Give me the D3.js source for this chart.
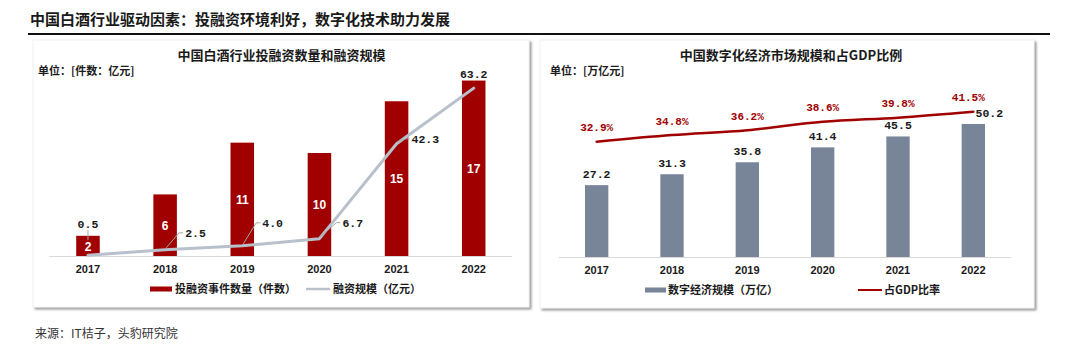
<!DOCTYPE html>
<html>
<head>
<meta charset="utf-8">
<script src="https://cdn.jsdelivr.net/npm/d3@7"></script>
<style>
  html, body { margin: 0; padding: 0; background: #fff; }
  svg { display: block; }
  .cjk { font-family: "Noto Sans CJK SC", "Noto Sans", sans-serif; }
  .num { font-family: "Liberation Mono", "DejaVu Sans Mono", monospace; }
  .lat { font-family: "Liberation Sans", Arial, sans-serif; }
</style>
</head>
<body>
<svg id="chart" width="1080" height="361"></svg>
<script>
// ---------- DATA ----------
const years = ["2017", "2018", "2019", "2020", "2021", "2022"];
// Left chart: 投融资事件数量（件数） and 融资规模（亿元）
const dealCounts = [2, 6, 11, 10, 15, 17];
const financingScale = [0.5, 2.5, 4.0, 6.7, 42.3, 63.2];
const financingLabels = ["0.5", "2.5", "4.0", "6.7", "42.3", "63.2"];
// Right chart: 数字经济规模（万亿） and 占GDP比率
const digitalEconomy = [27.2, 31.3, 35.8, 41.4, 45.5, 50.2];
const digitalLabels = ["27.2", "31.3", "35.8", "41.4", "45.5", "50.2"];
const gdpShare = [0.329, 0.348, 0.362, 0.386, 0.398, 0.415];
const gdpShareLabels = ["32.9%", "34.8%", "36.2%", "38.6%", "39.8%", "41.5%"];

const pageTitle = "中国白酒行业驱动因素：投融资环境利好，数字化技术助力发展";
const leftTitle = "中国白酒行业投融资数量和融资规模";
const leftUnit = "单位：[件数：亿元]";
const leftLegend = ["投融资事件数量（件数）", "融资规模（亿元）"];
const rightTitle = "中国数字化经济市场规模和占GDP比例";
const rightUnit = "单位：[万亿元]";
const rightLegend = ["数字经济规模（万亿）", "占GDP比率"];
const sourceText = "来源：IT桔子，头豹研究院";

// ---------- LAYOUT / STYLE ----------
const RED = "#a00000";
const LINE_GRAY = "#b8c0cb";
const BAR_GRAY = "#788497";
const AXIS_GRAY = "#d9d9d9";

const svg = d3.select("#chart");
const defs = svg.append("defs");
const f = defs.append("filter").attr("id", "shadow")
  .attr("x", "-5%").attr("y", "-5%").attr("width", "110%").attr("height", "115%");
f.append("feDropShadow").attr("dx", 2).attr("dy", 2).attr("stdDeviation", 1.3)
  .attr("flood-color", "#7a7a7a").attr("flood-opacity", 0.75);

// Page title
svg.append("text").attr("class", "cjk")
  .attr("x", 30).attr("y", 25)
  .attr("font-size", 15).attr("font-weight", 700).attr("fill", "#1a1a1a")
  .text(pageTitle);
svg.append("line").attr("x1", 28).attr("x2", 1050).attr("y1", 34).attr("y2", 34)
  .attr("stroke", "#111").attr("stroke-width", 2);

// Panels
svg.append("rect").attr("x", 33).attr("y", 40).attr("width", 496).attr("height", 267)
  .attr("fill", "#fff").attr("stroke", "#f2f2f2").attr("filter", "url(#shadow)");
svg.append("rect").attr("x", 540).attr("y", 40).attr("width", 494).attr("height", 268)
  .attr("fill", "#fff").attr("stroke", "#f2f2f2").attr("filter", "url(#shadow)");

// Source
svg.append("text").attr("class", "cjk")
  .attr("x", 35).attr("y", 338).attr("font-size", 12).attr("fill", "#333")
  .text(sourceText);

// ============ LEFT CHART ============
(function () {
  const g = svg.append("g");
  const base = 256.5;
  const x = d3.scaleBand().domain(years).range([49.4, 512.3])
    .paddingInner(0.695).paddingOuter(0.3475);
  const yBar = d3.scaleLinear().domain([0, 18]).range([base, base - 186.3]);
  const yLine = d3.scaleLinear().domain([0, 70]).range([base, base - 186.5]);
  const cx = d => x(d) + x.bandwidth() / 2;

  g.append("text").attr("class", "cjk").attr("x", 281.5).attr("y", 60)
    .attr("text-anchor", "middle").attr("font-size", 13).attr("font-weight", 700)
    .attr("fill", "#1a1a1a").text(leftTitle);
  g.append("text").attr("class", "cjk").attr("x", 38).attr("y", 75)
    .attr("font-size", 11).attr("font-weight", 700).attr("fill", "#1a1a1a").text(leftUnit);

  // bars
  g.selectAll("rect.bar").data(dealCounts).join("rect").attr("class", "bar")
    .attr("x", (d, i) => x(years[i])).attr("width", x.bandwidth())
    .attr("y", d => yBar(d)).attr("height", d => base - yBar(d))
    .attr("fill", RED);

  // axis
  const ax = g.append("g").attr("transform", `translate(0,${base})`)
    .call(d3.axisBottom(x).tickSize(0).tickPadding(9));
  ax.select(".domain").attr("stroke", AXIS_GRAY).attr("d", `M49.4,0H512.3`);
  ax.selectAll("text").attr("class", "lat").attr("font-size", 11)
    .attr("font-weight", 700).attr("fill", "#1a1a1a");

  // line
  const line = d3.line().x((d, i) => cx(years[i])).y(d => yLine(d));
  g.append("path").datum(financingScale).attr("d", line)
    .attr("fill", "none").attr("stroke", LINE_GRAY).attr("stroke-width", 3)
    .attr("stroke-linejoin", "round").attr("stroke-linecap", "round");

  // bar labels (white, inside)
  g.selectAll("text.blab").data(dealCounts).join("text").attr("class", "blab lat")
    .attr("x", (d, i) => cx(years[i]))
    .attr("y", d => (yBar(d) + base) / 2 + 4.5)
    .attr("text-anchor", "middle").attr("font-size", 12).attr("font-weight", 700)
    .attr("fill", "#fff").text(d => d);

  // line labels with leader lines (label offset from point: dx, dy, anchor)
  const lblOff = [
    { dx: 0, dy: -32, anchor: "middle" },
    { dx: 20, dy: -17, anchor: "start" },
    { dx: 20, dy: -23, anchor: "start" },
    { dx: 23, dy: -16, anchor: "start" },
    { dx: 15, dy: -5, anchor: "start" },
    { dx: 0, dy: -15, anchor: "middle" }
  ];
  financingScale.forEach((v, i) => {
    const px = cx(years[i]), py = yLine(v), o = lblOff[i];
    const lx = px + o.dx, ly = py + o.dy;
    if (o.anchor === "start") {
      g.append("polyline")
        .attr("points", `${px + 1},${py - 2} ${lx - 6},${ly} ${lx - 2},${ly}`)
        .attr("fill", "none").attr("stroke", "#a6a6a6").attr("stroke-width", 1);
    } else if (i === 0) {
      g.append("line").attr("x1", px).attr("x2", px).attr("y1", ly + 7).attr("y2", ly + 17)
        .attr("stroke", "#a6a6a6").attr("stroke-width", 1);
    }
    g.append("text").attr("class", "num").attr("x", lx).attr("y", ly + 4.5)
      .attr("text-anchor", o.anchor).attr("font-size", 11.5).attr("font-weight", 700)
      .attr("fill", "#1a1a1a").text(financingLabels[i]);
  });

  // legend
  const lg = g.append("g");
  lg.append("rect").attr("x", 150).attr("y", 286.5).attr("width", 22).attr("height", 5).attr("fill", RED);
  lg.append("text").attr("class", "cjk").attr("x", 175).attr("y", 293)
    .attr("font-size", 11).attr("font-weight", 700).attr("fill", "#1a1a1a").text(leftLegend[0]);
  lg.append("line").attr("x1", 306).attr("x2", 330).attr("y1", 289).attr("y2", 289)
    .attr("stroke", LINE_GRAY).attr("stroke-width", 2.5);
  lg.append("text").attr("class", "cjk").attr("x", 333).attr("y", 293)
    .attr("font-size", 11).attr("font-weight", 700).attr("fill", "#1a1a1a").text(leftLegend[1]);
})();

// ============ RIGHT CHART ============
(function () {
  const g = svg.append("g");
  const base = 257.5;
  const x = d3.scaleBand().domain(years).range([559, 1011])
    .paddingInner(0.69).paddingOuter(0.345);
  const yBar = d3.scaleLinear().domain([0, 60]).range([base, base - 159.6]);
  const yLine = d3.scaleLinear().domain([0, 0.46]).range([base - 1, base - 161.5]);
  const cx = d => x(d) + x.bandwidth() / 2;

  g.append("text").attr("class", "cjk").attr("x", 791).attr("y", 60)
    .attr("text-anchor", "middle").attr("font-size", 13).attr("font-weight", 700)
    .attr("fill", "#1a1a1a").text(rightTitle);
  g.append("text").attr("class", "cjk").attr("x", 550).attr("y", 75)
    .attr("font-size", 11).attr("font-weight", 700).attr("fill", "#1a1a1a").text(rightUnit);

  g.selectAll("rect.bar").data(digitalEconomy).join("rect").attr("class", "bar")
    .attr("x", (d, i) => x(years[i])).attr("width", x.bandwidth())
    .attr("y", d => yBar(d)).attr("height", d => base - yBar(d))
    .attr("fill", BAR_GRAY);

  const ax = g.append("g").attr("transform", `translate(0,${base})`)
    .call(d3.axisBottom(x).tickSize(0).tickPadding(9));
  ax.select(".domain").attr("stroke", AXIS_GRAY).attr("d", `M559,0H1011`);
  ax.selectAll("text").attr("class", "lat").attr("font-size", 11)
    .attr("font-weight", 700).attr("fill", "#1a1a1a");

  // bar value labels
  const barDx = [0, 0, 0, 0, 0, 16];
  g.selectAll("text.vlab").data(digitalEconomy).join("text").attr("class", "vlab num")
    .attr("x", (d, i) => cx(years[i]) + barDx[i])
    .attr("y", d => yBar(d) - 7)
    .attr("text-anchor", "middle").attr("font-size", 11.5).attr("font-weight", 700)
    .attr("fill", "#1a1a1a").text((d, i) => digitalLabels[i]);

  // GDP share line
  const line = d3.line().x((d, i) => cx(years[i])).y(d => yLine(d)).curve(d3.curveMonotoneX);
  g.append("path").datum(gdpShare).attr("d", line)
    .attr("fill", "none").attr("stroke", RED).attr("stroke-width", 2.5)
    .attr("stroke-linecap", "round");

  const pctDx = [0, 0, 0, 0, 0, -5];
  g.selectAll("text.plab").data(gdpShare).join("text").attr("class", "plab num")
    .attr("x", (d, i) => cx(years[i]) + pctDx[i])
    .attr("y", d => yLine(d) - 10.5)
    .attr("text-anchor", "middle").attr("font-size", 11).attr("font-weight", 700)
    .attr("fill", RED).text((d, i) => gdpShareLabels[i]);

  const lg = g.append("g");
  lg.append("rect").attr("x", 645).attr("y", 287.5).attr("width", 21).attr("height", 5).attr("fill", BAR_GRAY);
  lg.append("text").attr("class", "cjk").attr("x", 668).attr("y", 294)
    .attr("font-size", 11).attr("font-weight", 700).attr("fill", "#1a1a1a").text(rightLegend[0]);
  lg.append("line").attr("x1", 858).attr("x2", 882).attr("y1", 290).attr("y2", 290)
    .attr("stroke", RED).attr("stroke-width", 2);
  lg.append("text").attr("class", "cjk").attr("x", 884).attr("y", 294)
    .attr("font-size", 11).attr("font-weight", 700).attr("fill", "#1a1a1a").text(rightLegend[1]);
})();
</script>
</body>
</html>
